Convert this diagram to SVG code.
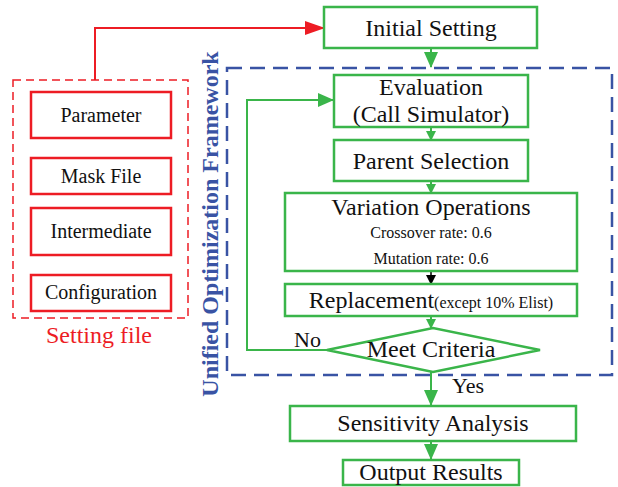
<svg xmlns="http://www.w3.org/2000/svg" width="618" height="487" viewBox="0 0 618 487">
<defs>
<marker id="ag" markerWidth="10" markerHeight="10" refX="9" refY="5" orient="auto" markerUnits="userSpaceOnUse"><path d="M0,0 L10,5 L0,10 Z" fill="#3AB54A"/></marker>
<marker id="agl" markerWidth="16" markerHeight="14" refX="15" refY="7" orient="auto" markerUnits="userSpaceOnUse"><path d="M0,0 L16,7 L0,14 Z" fill="#3AB54A"/></marker>
<marker id="ab" markerWidth="10" markerHeight="10" refX="9" refY="5" orient="auto" markerUnits="userSpaceOnUse"><path d="M0,0 L10,5 L0,10 Z" fill="#000"/></marker>
<marker id="ar" markerWidth="20" markerHeight="14" refX="19" refY="7" orient="auto" markerUnits="userSpaceOnUse"><path d="M0,0 L20,7 L0,14 Z" fill="#ED1C24"/></marker>
</defs>
<style>
text{font-family:"Liberation Serif","Times New Roman",serif;fill:#111}
.g{fill:#fff;stroke:#3AB54A;stroke-width:2.5}
.r{fill:#fff;stroke:#ED1C24;stroke-width:2.5}
.t24{font-size:24px;text-anchor:middle}
.t20{font-size:20px;text-anchor:middle}
.t16{font-size:16px;text-anchor:middle}
.cg{fill:none;stroke:#3AB54A;stroke-width:2}
</style>
<rect x="13" y="80" width="175" height="238" fill="none" stroke="#ED1C24" stroke-width="1.5" stroke-dasharray="8,5"/>
<rect x="227" y="68" width="385" height="307" fill="none" stroke="#3953A4" stroke-width="2.5" stroke-dasharray="15,8"/>
<text transform="translate(218,224) rotate(-90)" style="font-size:24px;font-weight:bold;fill:#3953A4;text-anchor:middle">Unified Optimization Framework</text>
<text x="99" y="343" style="font-size:24px;fill:#ED1C24;text-anchor:middle">Setting file</text>
<g id="connectors">
<path d="M95,80 V28 H324" fill="none" stroke="#ED1C24" stroke-width="2" marker-end="url(#ar)"/>
<line x1="431" y1="48" x2="431" y2="67" class="cg" marker-end="url(#agl)"/>
<line x1="431" y1="127" x2="431" y2="140" class="cg" marker-end="url(#ag)"/>
<line x1="431" y1="181" x2="431" y2="193" class="cg" marker-end="url(#ag)"/>
<line x1="431" y1="271" x2="431" y2="284" stroke="#000" stroke-width="1.5" marker-end="url(#ab)"/>
<line x1="431" y1="316" x2="431" y2="328" class="cg" marker-end="url(#ag)"/>
<path d="M327,350 H247 V100 H333" class="cg" marker-end="url(#agl)"/>
<line x1="431" y1="372" x2="431" y2="405" class="cg" marker-end="url(#agl)"/>
<line x1="431" y1="441" x2="431" y2="459" class="cg" marker-end="url(#agl)"/>
<text x="294" y="347" style="font-size:22px">No</text>
<text x="452" y="393" style="font-size:22px">Yes</text>
</g>
<g id="parameter"><rect class="r" x="31" y="92" width="140" height="46"/><text class="t20" x="101" y="122">Parameter</text></g>
<g id="maskfile"><rect class="r" x="31" y="158" width="140" height="36"/><text class="t20" x="101" y="183">Mask File</text></g>
<g id="intermediate"><rect class="r" x="31" y="208" width="140" height="47"/><text class="t20" x="101" y="238">Intermediate</text></g>
<g id="configuration"><rect class="r" x="31" y="275" width="140" height="36"/><text class="t20" x="101" y="299">Configuration</text></g>
<g id="initial"><rect class="g" x="324" y="7" width="213" height="41"/><text class="t24" x="431" y="36">Initial Setting</text></g>
<g id="evaluation"><rect class="g" x="334" y="75" width="194" height="52"/><text class="t24" x="431" y="95">Evaluation</text><text class="t24" x="431" y="122">(Call Simulator)</text></g>
<g id="parent"><rect class="g" x="334" y="140" width="194" height="41"/><text class="t24" x="431" y="169">Parent Selection</text></g>
<g id="variation"><rect class="g" x="285" y="193" width="292" height="78"/><text class="t24" x="431" y="215">Variation Operations</text><text class="t16" x="431" y="238">Crossover rate: 0.6</text><text class="t16" x="431" y="264">Mutation rate: 0.6</text></g>
<g id="replacement"><rect class="g" x="285" y="284" width="292" height="32"/><text x="431" y="308" style="text-anchor:middle;font-size:24px">Replacement<tspan style="font-size:16px">(except 10% Elist)</tspan></text></g>
<g id="criteria"><path class="g" d="M327,350 L433,328 L540,350 L433,372 Z"/><text class="t24" x="431" y="357">Meet Criteria</text></g>
<g id="sensitivity"><rect class="g" x="290" y="406" width="286" height="35"/><text class="t24" x="433" y="431">Sensitivity Analysis</text></g>
<g id="output"><rect class="g" x="343" y="460" width="176" height="25"/><text class="t24" x="431" y="480">Output Results</text></g>
</svg>
